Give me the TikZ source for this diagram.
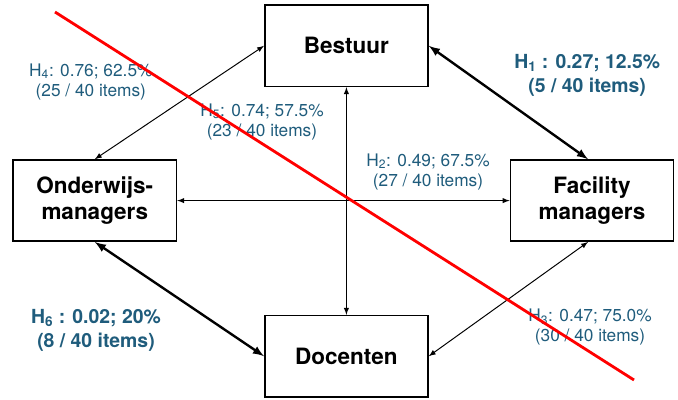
\documentclass[tikz,border=0pt]{standalone}
\usepackage{fontspec}
\setmainfont{TeX Gyre Heros}
\definecolor{hypblue}{RGB}{31,92,124}

\begin{document}
\begin{tikzpicture}
\tikzset{ >=latex, box/.style={draw, line width=1.1pt, minimum width=4.08cm, minimum height=2.03cm, align=center, font=\fontsize{16}{19}\selectfont\bfseries},
  lab/.style={text=hypblue, align=center, font=\fontsize{12.3}{14.4}\selectfont},
  blab/.style={text=hypblue, align=center, font=\fontsize{13.8}{17}\selectfont\bfseries},
  thin link/.style={<->, line width=0.7pt},
  thick link/.style={<->, line width=1.7pt} }
\useasboundingbox (0,0) rectangle (16.95,9.975);
%\draw [lightgray, dashed](0,0) grid (17,10);

\node [box] (B) at (8.66,8.83) {Bestuur};
\node [box] (D) at (8.66,1.07) {Docenten};
\node [box] (O) at (2.37,4.96) {Onderwijs-\\managers};
\node [box] (F) at (14.8,4.96) {Facility\\managers};

\draw [thick link] (B.east)  -- ([xshift=-1mm]F.north);
\draw [thin link]  (B.west)  -- (O.north);
\draw [thin link]  (O.east)  -- (F.west);
\draw [thin link]  (B.south) -- (D.north);
\draw [thin link]  ([xshift=-1mm]F.south) -- (D.east);
\draw [thick link] (O.south) -- (D.west);

\node [blab] (H1) at (14.68,8.10) {H\textsubscript{1} : 0.27; 12.5\%\\(5 / 40 items)};
\node [lab]  (H2) at (10.70,5.68) {H\textsubscript{2}: 0.49; 67.5\%\\(27 / 40 items)};
\node [lab]  (H3) at (14.75,1.80) {H\textsubscript{3}: 0.47; 75.0\%\\(30 / 40 items)};
\node [lab]  (H4) at (2.27,7.93)  {H\textsubscript{4}: 0.76; 62.5\%\\(25 / 40 items)};
\node [lab]  (H5) at (6.55,6.93)  {H\textsubscript{5}: 0.74; 57.5\%\\(23 / 40 items)};
\node [blab] (H6) at (2.40,1.71)  {H\textsubscript{6} : 0.02; 20\%\\(8 / 40 items)};

% strike-through
\coordinate (S1) at (1.375,9.675);
\coordinate (S2) at (15.85,0.475);
\draw [red, line width=2pt] (S1) -- (S2);

\end{tikzpicture}
\end{document}
